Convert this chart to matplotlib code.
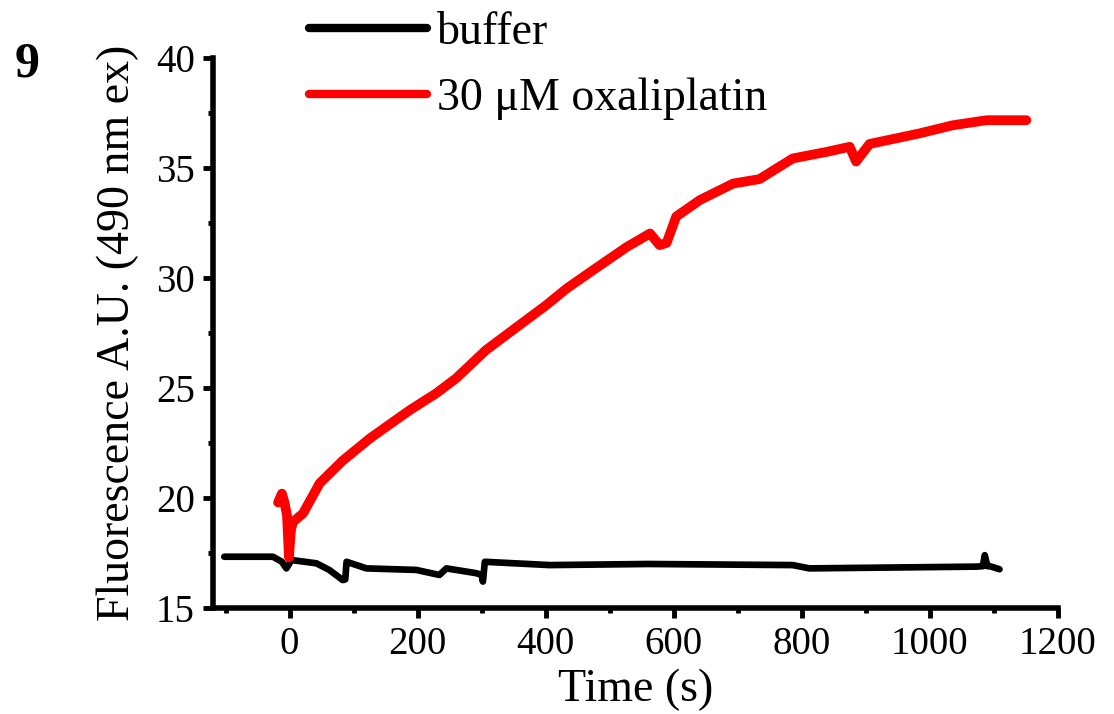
import matplotlib
matplotlib.use("Agg")
from matplotlib import pyplot as plt
from matplotlib.ticker import MultipleLocator

# values (time in s, fluorescence in A.U.)
buffer_t = [-102, -26, -12, -5, 3, 42, 62, 83, 87, 89, 120, 198, 234, 245, 292,
            300, 302, 305, 406, 560, 786, 812, 1073, 1083, 1086, 1090, 1094, 1109]
buffer_v = [17.33, 17.33, 17.1, 16.8, 17.18, 17.03, 16.73, 16.27, 16.3, 17.1, 16.8,
            16.73, 16.5, 16.8, 16.58, 16.5, 16.2, 17.1, 16.95, 17.0, 16.95, 16.8,
            16.88, 16.9, 17.4, 16.9, 16.9, 16.76]

oxali_t = [-18, -12, -8, -4, -1, 2, 5, 21, 47, 83, 125, 151, 188, 229, 260, 307,
           359, 401, 433, 474, 526, 563, 578, 589, 604, 641, 693, 734, 786, 839,
           875, 885, 906, 984, 1036, 1089, 1151]
oxali_v = [19.8, 20.2, 19.8, 19.2, 17.3, 18.5, 18.9, 19.3, 20.67, 21.7, 22.7, 23.24,
           24.0, 24.76, 25.44, 26.73, 27.86, 28.77, 29.53, 30.36, 31.4, 32.03, 31.5,
           31.6, 32.8, 33.55, 34.3, 34.5, 35.44, 35.74, 35.97, 35.3, 36.1, 36.58,
           36.95, 37.18, 37.18]

x_ticks = [0, 200, 400, 600, 800, 1000, 1200]
y_ticks = [15, 20, 25, 30, 35, 40]

plt.rcParams["font.family"] = ["Liberation Serif", "DejaVu Serif"]

fig = plt.figure(figsize=(11.14, 7.14), dpi=100)
ax = fig.add_axes([0.191, 0.1485, 0.7585, 0.770])

ax.plot(buffer_t, buffer_v, color="black", lw=4.8, label="buffer",
        solid_joinstyle="round", solid_capstyle="round")
ax.plot(oxali_t, oxali_v, color="#ff0000", lw=7, label="30 \u03bcM oxaliplatin",
        solid_joinstyle="round", solid_capstyle="round")

ax.set_xlim(-120, 1200)
ax.set_ylim(15, 40)
ax.set_xticks(x_ticks)
ax.set_yticks(y_ticks)
ax.xaxis.set_minor_locator(MultipleLocator(100))
ax.yaxis.set_minor_locator(MultipleLocator(2.5))

for side in ("top", "right"):
    ax.spines[side].set_visible(False)
for side in ("left", "bottom"):
    ax.spines[side].set_linewidth(4)

ax.tick_params(which="major", direction="out", length=7, width=3.5,
               labelsize=28, pad=6)
ax.tick_params(which="minor", direction="out", length=3.5, width=3.5)

ax.set_xlabel("Time (s)", fontsize=33, labelpad=4)
ax.set_ylabel("Fluorescence A.U. (490 nm ex)", fontsize=33, labelpad=12)

leg = ax.legend(loc="upper left", bbox_to_anchor=(0.261, 1.009),
                bbox_transform=fig.transFigure, frameon=False, fontsize=33,
                handlelength=2.58, handletextpad=0.22, labelspacing=0.5,
                borderaxespad=0)
for h in leg.get_lines():
    h.set_linewidth(6)

fig.text(0.024, 0.91, "9", fontsize=36, fontweight="bold", ha="center", va="center")

fig.savefig("out.png", dpi=100)
